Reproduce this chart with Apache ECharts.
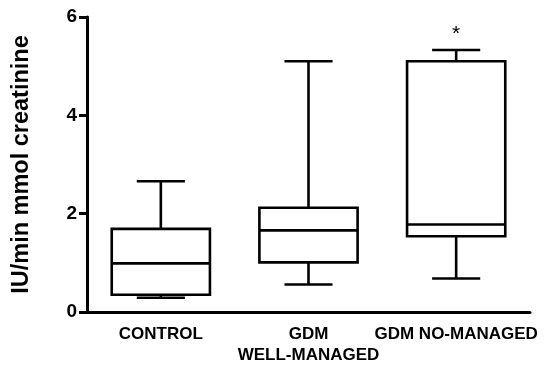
<!DOCTYPE html>
<html>
<head>
<meta charset="utf-8">
<script src="https://cdn.jsdelivr.net/npm/echarts@6/dist/echarts.min.js"></script>
<style>html,body{margin:0;padding:0;background:#fff;}#c{width:550px;height:369px;}</style>
</head>
<body>
<div id="c"></div>
<script>
var categories = ['CONTROL', 'GDM\nWELL-MANAGED', 'GDM NO-MANAGED'];
var whiskerLow = [0.29, 0.56, 0.68];
var q1 = [0.35, 1.01, 1.54];
var median = [0.99, 1.66, 1.78];
var q3 = [1.69, 2.12, 5.10];
var whiskerHigh = [2.66, 5.10, 5.33];
var significance = ['', '', '*'];
var yTicks = [0, 2, 4, 6];

var data = categories.map(function (c, i) {
  return [i, whiskerLow[i], q1[i], median[i], q3[i], whiskerHigh[i]];
});

var FONT = 'Liberation Sans, Arial, Helvetica, sans-serif';
var chart = echarts.init(document.getElementById('c'));

function renderItem(params, api) {
  var i = api.value(0);
  var cx = api.coord([i, 0])[0];
  var bw = api.size([1, 0])[0] * 0.665;
  var cw = bw * 0.49;
  var yLo = api.coord([i, api.value(1)])[1];
  var yQ1 = api.coord([i, api.value(2)])[1];
  var yMed = api.coord([i, api.value(3)])[1];
  var yQ3 = api.coord([i, api.value(4)])[1];
  var yHi = api.coord([i, api.value(5)])[1];
  var st = { stroke: '#000', lineWidth: 2.6, fill: null };
  var children = [
    { type: 'line', shape: { x1: cx, y1: yQ3, x2: cx, y2: yHi }, style: st },
    { type: 'line', shape: { x1: cx, y1: yQ1, x2: cx, y2: yLo }, style: st },
    { type: 'line', shape: { x1: cx - cw / 2, y1: yHi, x2: cx + cw / 2, y2: yHi }, style: st },
    { type: 'line', shape: { x1: cx - cw / 2, y1: yLo, x2: cx + cw / 2, y2: yLo }, style: st },
    { type: 'rect', shape: { x: cx - bw / 2, y: yQ3, width: bw, height: yQ1 - yQ3 }, style: { stroke: '#000', lineWidth: 2.6, fill: '#fff' } },
    { type: 'line', shape: { x1: cx - bw / 2, y1: yMed, x2: cx + bw / 2, y2: yMed }, style: st }
  ];
  var sig = significance[i];
  if (sig) {
    children.push({
      type: 'text',
      style: { text: sig, x: cx, y: yHi - 5, align: 'center', verticalAlign: 'bottom', fontSize: 21, fontFamily: FONT, fill: '#000' }
    });
  }
  return { type: 'group', children: children };
}

chart.setOption({
  backgroundColor: '#fff',
  animation: false,
  grid: { left: 87, right: 20, top: 17, bottom: 57 },
  xAxis: {
    type: 'category',
    data: categories,
    axisLine: { lineStyle: { color: '#000', width: 3 } },
    axisTick: { alignWithLabel: true, length: 8, lineStyle: { color: '#000', width: 3 } },
    axisLabel: { color: '#000', fontWeight: 'bold', fontSize: 17, fontFamily: FONT, margin: 12, lineHeight: 21, interval: 0 }
  },
  yAxis: {
    type: 'value',
    min: yTicks[0],
    max: yTicks[yTicks.length - 1],
    interval: 2,
    name: 'IU/min mmol creatinine',
    nameLocation: 'middle',
    nameGap: 53,
    nameTextStyle: { color: '#000', fontWeight: 'bold', fontSize: 23.5, fontFamily: FONT },
    axisLine: { show: true, lineStyle: { color: '#000', width: 3 } },
    axisTick: { show: true, length: 8, lineStyle: { color: '#000', width: 3 } },
    axisLabel: { color: '#000', fontWeight: 'bold', fontSize: 19, fontFamily: FONT, margin: 10 },
    splitLine: { show: false }
  },
  series: [{
    type: 'custom',
    renderItem: renderItem,
    encode: { x: 0, y: [1, 2, 3, 4, 5] },
    data: data,
    clip: false
  }]
});
</script>
</body>
</html>
